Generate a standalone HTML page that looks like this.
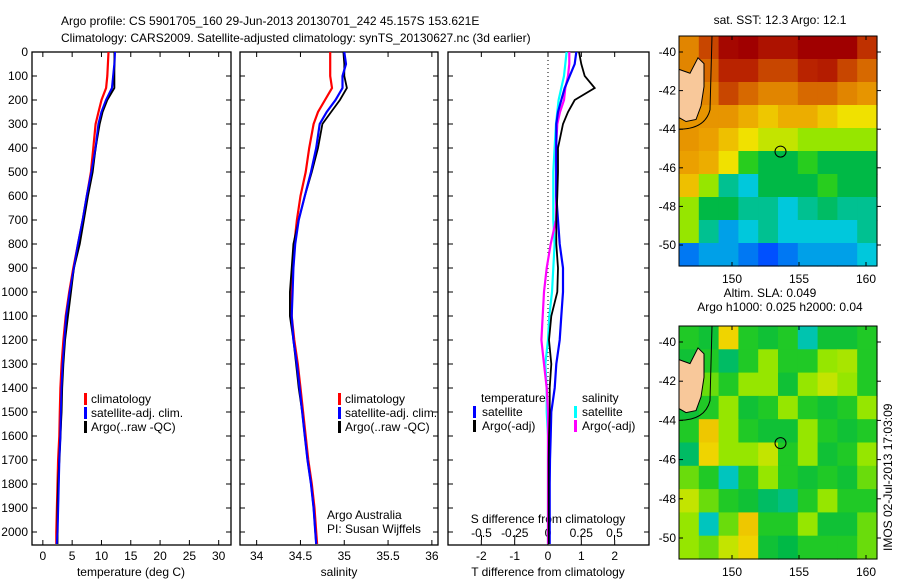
<!DOCTYPE html>
<html><head><meta charset="utf-8">
<style>
html,body{margin:0;padding:0;background:#fff;}
svg{display:block;font-family:"Liberation Sans",sans-serif;}
text{font-size:12px;fill:#000;}
</style></head>
<body>
<svg id="fig" width="900" height="580" viewBox="0 0 900 580" xmlns="http://www.w3.org/2000/svg">
<text x="61" y="25">Argo profile: CS 5901705_160 29-Jun-2013 20130701_242 45.157S 153.621E</text>
<text x="61" y="42">Climatology: CARS2009. Satellite-adjusted climatology: synTS_20130627.nc (3d earlier)</text>
<g id="g1"></g>
<g id="g2"></g>
<g id="g3"></g>
<g id="m1"></g>
<g id="m2"></g>
<text transform="translate(892,551) rotate(-90)">IMOS 02-Jul-2013 17:03:09</text>
</svg>
<script>
const depthTicks=[0,100,200,300,400,500,600,700,800,900,1000,1100,1200,1300,1400,1500,1600,1700,1800,1900,2000];
const depths=[0,50,100,150,200,250,300,400,500,600,700,800,900,1000,1100,1200,1300,1400,1500,1600,1700,1800,1900,2000,2050];
const tempClim=[11.2,11.1,11.0,10.8,10.0,9.5,9.0,8.6,8.2,7.5,6.8,6.0,5.2,4.5,3.9,3.5,3.2,3.0,2.9,2.8,2.6,2.5,2.4,2.3,2.3];
const tempSat=[12.3,12.2,12.0,11.8,10.8,10.0,9.5,9.0,8.3,7.5,6.8,6.0,5.3,4.6,4.0,3.7,3.4,3.2,3.1,3.0,2.8,2.7,2.6,2.5,2.4];
const tempArgo=[12.2,12.2,12.2,12.2,11.0,10.2,9.7,9.0,8.5,7.7,7.0,6.3,5.3,4.8,4.3,3.8,3.5,3.3,3.2,3.0,2.8,2.6,2.5,2.5,2.5];
const salClim=[34.84,34.84,34.84,34.86,34.78,34.70,34.65,34.60,34.56,34.50,34.46,34.43,34.41,34.40,34.40,34.43,34.47,34.50,34.53,34.56,34.59,34.63,34.66,34.68,34.69];
const salSat=[35.0,35.02,34.98,34.98,34.90,34.80,34.72,34.68,34.62,34.55,34.48,34.44,34.42,34.41,34.40,34.42,34.46,34.49,34.52,34.55,34.58,34.62,34.65,34.67,34.68];
const salArgo=[34.99,35.0,35.0,35.03,34.95,34.85,34.75,34.70,34.63,34.55,34.48,34.42,34.40,34.38,34.38,34.42,34.45,34.48,34.52,34.55,34.58,34.62,34.65,34.67,34.68];
const dTSat=[0.85,0.8,0.65,0.5,0.4,0.3,0.25,0.25,0.25,0.25,0.3,0.35,0.45,0.45,0.4,0.35,0.25,0.2,0.1,0.08,0.06,0.05,0.05,0.05,0.05];
const dTArgo=[0.93,1.0,1.1,1.4,0.8,0.6,0.45,0.3,0.3,0.28,0.25,0.25,0.3,0.28,0.1,0.03,0.1,0.05,0.05,0.03,0.02,0.02,0.02,0.02,0.02];
const dSSat=[0.14,0.13,0.12,0.1,0.08,0.07,0.06,0.05,0.04,0.04,0.04,0.05,0.04,0.03,0.01,0.0,-0.02,-0.01,-0.01,0.0,0.0,0.0,0.0,0.0,0.0];
const dSArgo=[0.16,0.16,0.15,0.13,0.12,0.09,0.07,0.06,0.06,0.06,0.06,0.02,-0.01,-0.03,-0.04,-0.05,-0.03,-0.01,0.0,0.0,0.0,0.0,0.0,0.0,0.0];
const tTicks=[0,5,10,15,20,25,30];
const sTicks=[34,34.5,35,35.5,36];
const dtTicks=[-2,-1,0,1,2];
const dsTicks=[-0.5,-0.25,0,0.25,0.5];
const dsTickLabels=["-0.5","-0.25","0","0.25","0.5"];
const lons=[150,155,160];
const lats=[-40,-42,-44,-46,-48,-50];
const sstGrid=[
[0.75,0.85,0.98,1,0.95,0.95,1,1,1,0.88],
[0.75,0.8,0.9,0.9,0.85,0.85,0.9,0.92,0.85,0.8],
[0.72,0.75,0.85,0.8,0.75,0.75,0.8,0.8,0.75,0.72],
[0.72,0.72,0.72,0.68,0.64,0.68,0.68,0.64,0.6,0.6],
[0.72,0.7,0.65,0.6,0.55,0.55,0.5,0.5,0.5,0.5],
[0.7,0.68,0.6,0.45,0.4,0.4,0.45,0.4,0.4,0.4],
[0.65,0.5,0.35,0.3,0.4,0.4,0.4,0.45,0.4,0.4],
[0.5,0.4,0.4,0.35,0.35,0.3,0.35,0.38,0.35,0.35],
[0.5,0.35,0.25,0.3,0.35,0.3,0.3,0.3,0.3,0.35],
[0.2,0.25,0.25,0.2,0.15,0.2,0.25,0.25,0.25,0.3]];
const slaGrid=[
[0.44,0.42,0.62,0.44,0.42,0.44,0.33,0.42,0.42,0.44],
[0.42,0.44,0.38,0.44,0.5,0.44,0.44,0.5,0.52,0.44],
[0.44,0.48,0.44,0.5,0.5,0.42,0.5,0.55,0.5,0.44],
[0.42,0.44,0.5,0.42,0.44,0.5,0.44,0.42,0.44,0.5],
[0.44,0.64,0.5,0.44,0.42,0.42,0.5,0.44,0.42,0.44],
[0.38,0.62,0.5,0.5,0.55,0.44,0.5,0.42,0.44,0.5],
[0.48,0.44,0.32,0.44,0.5,0.44,0.42,0.44,0.42,0.48],
[0.55,0.48,0.44,0.42,0.38,0.36,0.44,0.5,0.44,0.44],
[0.5,0.32,0.48,0.64,0.44,0.44,0.5,0.42,0.42,0.48],
[0.5,0.48,0.55,0.62,0.42,0.4,0.44,0.44,0.44,0.48]];
const argoLon=153.62, argoLat=-45.16;

const NS='http://www.w3.org/2000/svg';
function mk(parent,tag,attrs){const e=document.createElementNS(NS,tag);for(const k in attrs)e.setAttribute(k,attrs[k]);parent.appendChild(e);return e;}
const Y0=52, YB=545, yPx=d=>Y0+d*0.24;

function panel(g,x0,x1,xmin,xmax){
  const sx=v=>x0+(v-xmin)/(xmax-xmin)*(x1-x0);
  const r=mk(g,'rect',{x:x0,y:Y0,width:x1-x0,height:YB-Y0,fill:'none',stroke:'#000','stroke-width':1.3});
  
  
  depthTicks.forEach(d=>{
    const y=yPx(d);
    mk(g,'line',{x1:x0,x2:x0+5,y1:y,y2:y,stroke:'#000'});
    mk(g,'line',{x1:x1-5,x2:x1,y1:y,y2:y,stroke:'#000'});
  });
  return sx;
}
function xticks(g,sx,ticks,labels,ly){
  ticks.forEach((v,i)=>{
    const x=sx(v);
    mk(g,'line',{x1:x,x2:x,y1:Y0,y2:Y0+5,stroke:'#000'});
    mk(g,'line',{x1:x,x2:x,y1:YB-5,y2:YB,stroke:'#000'});
    const t=mk(g,'text',{x:x,y:ly,'text-anchor':'middle'});t.textContent=labels[i];
    
    
  });
}
function line(g,sx,vals,color,name,w){
  const pts=vals.map((v,i)=>sx(v).toFixed(1)+','+yPx(depths[i]).toFixed(1)).join(' ');
  const p=mk(g,'polyline',{points:pts,fill:'none',stroke:color,'stroke-width':w||2.2});
  
  
}
function txt(g,x,y,s,name,anchor){const t=mk(g,'text',{x:x,y:y,'text-anchor':anchor||'start'});t.textContent=s;
  
  return t;}
function legMark(g,x,y,c){const r=mk(g,'rect',{x:x,y:y-10,width:3,height:12,fill:c});
  
  }

const svg=document.getElementById('fig');
depthTicks.forEach(d=>{txt(svg,28,yPx(d)+4,String(d),'y-tick-label','end');});

const g1=document.getElementById('g1');
const sx1=panel(g1,32,231,-1.85,32.1);
xticks(g1,sx1,tTicks,tTicks.map(String),560);
txt(g1,131,576,'temperature (deg C)','x-axis-title','middle');
line(g1,sx1,tempClim,'#f00','temp-climatology-line');
line(g1,sx1,tempSat,'#00f','temp-satellite-line');
line(g1,sx1,tempArgo,'#000','temp-argo-line',1.8);
line(g1,sx1,tempSat,'#00f','temp-satellite-line-top',1.6);
[['climatology','#f00'],['satellite-adj. clim.','#00f'],['Argo(..raw -QC)','#000']].forEach((e,i)=>{legMark(g1,84,403+i*14,e[1]);txt(g1,91,403+i*14,e[0],'legend-entry');});

const g2=document.getElementById('g2');
const sx2=panel(g2,240,438,33.81,36.07);
xticks(g2,sx2,sTicks,sTicks.map(String),560);
txt(g2,339,576,'salinity','x-axis-title','middle');
line(g2,sx2,salClim,'#f00','sal-climatology-line');
line(g2,sx2,salArgo,'#000','sal-argo-line',1.8);
line(g2,sx2,salSat,'#00f','sal-satellite-line');
[['climatology','#f00'],['satellite-adj. clim.','#00f'],['Argo(..raw -QC)','#000']].forEach((e,i)=>{legMark(g2,338,403+i*14,e[1]);txt(g2,345,403+i*14,e[0],'legend-entry');});
txt(g2,327,519,'Argo Australia','credit-line-1');
txt(g2,327,533,'PI: Susan Wijffels','credit-line-2');

const g3=document.getElementById('g3');
const sxT=panel(g3,448,649,-3,3.03);
const sxS=v=>sxT(0)+v*133;
xticks(g3,sxT,dtTicks,dtTicks.map(String),560);
dsTicks.forEach((v,i)=>{const x=sxS(v);mk(g3,'line',{x1:x,x2:x,y1:YB-10,y2:YB-5,stroke:'#000'});txt(g3,x,537,dsTickLabels[i],'s-tick-label','middle');});
txt(g3,548,523,'S difference from climatology','s-axis-title','middle');
txt(g3,548,576,'T difference from climatology','x-axis-title','middle');
const zl=mk(g3,'line',{x1:sxT(0),x2:sxT(0),y1:Y0,y2:YB,stroke:'#000','stroke-dasharray':'1,3'});


line(g3,sxS,dSSat,'#0ff','sal-diff-satellite-line');
line(g3,sxS,dSArgo,'#f0f','sal-diff-argo-line');
line(g3,sxT,dTSat,'#00f','temp-diff-satellite-line');
line(g3,sxT,dTArgo,'#000','temp-diff-argo-line',1.8);
txt(g3,481,402,'temperature','legend-heading-temperature');
txt(g3,582,402,'salinity','legend-heading-salinity');
legMark(g3,473,416,'#00f');txt(g3,482,416,'satellite','legend-entry');
legMark(g3,473,430,'#000');txt(g3,482,430,'Argo(-adj)','legend-entry');
legMark(g3,574,416,'#0ff');txt(g3,582,416,'satellite','legend-entry');
legMark(g3,574,430,'#f0f');txt(g3,582,430,'Argo(-adj)','legend-entry');

const cmapStops=[[0,[0,0,140]],[0.15,[0,80,255]],[0.3,[0,200,220]],[0.4,[0,185,70]],[0.45,[40,205,30]],[0.5,[150,230,0]],[0.6,[240,225,0]],[0.7,[235,160,0]],[0.8,[215,105,0]],[0.9,[185,35,0]],[1,[160,0,0]]];
function cmap(v){for(let i=1;i<cmapStops.length;i++){if(v<=cmapStops[i][0]){const a=cmapStops[i-1],b=cmapStops[i];const f=(v-a[0])/(b[0]-a[0]);return 'rgb('+a[1].map((c,j)=>Math.round(c+(b[1][j]-c)*f)).join(',')+')';}}return 'rgb(160,0,0)';}
function drawMap(g,grid,top,bot,lat40,pxDeg,title1,title2){
  const L=679,R=877;
  const sxm=lon=>732+(lon-150)*13.4, sym=lat=>lat40+(-40-lat)*pxDeg;
  const rows=grid.length, cols=grid[0].length, cw=(R-L)/cols, ch=(bot-top)/rows;
  grid.forEach((row,i)=>row.forEach((v,j)=>{
    const c=mk(g,'rect',{x:(L+j*cw).toFixed(1),y:(top+i*ch).toFixed(1),width:(cw+0.6).toFixed(1),height:(ch+0.6).toFixed(1),fill:cmap(v)});
    
    
  }));
  const land=mk(g,'polygon',{points:[[679,sym(-40.9)],[690,sym(-41.1)],[698,sym(-40.3)],[704,sym(-40.6)],[704,sym(-41.8)],[701,sym(-42.8)],[696,sym(-43.5)],[686,sym(-43.6)],[679,sym(-43.4)]].map(p=>p[0]+','+p[1].toFixed(1)).join(' '),fill:'#f8c89a',stroke:'#000','stroke-width':1});
  
  
  const coast=mk(g,'path',{d:'M679,'+sym(-44).toFixed(1)+' Q705,'+sym(-44).toFixed(1)+' 710,'+sym(-43).toFixed(1)+' L712,'+top+'',fill:'none',stroke:'#000','stroke-width':1});
  
  
  const fr=mk(g,'rect',{x:L,y:top,width:R-L,height:bot-top,fill:'none',stroke:'#000','stroke-width':1});
  
  
  lons.forEach(lon=>{const x=sxm(lon);mk(g,'line',{x1:x,x2:x,y1:top,y2:top+4,stroke:'#000'});mk(g,'line',{x1:x,x2:x,y1:bot-4,y2:bot,stroke:'#000'});txt(g,x,bot+17,String(lon),'lon-tick-label','middle');});
  lats.forEach(lat=>{const y=sym(lat);mk(g,'line',{x1:L,x2:L+4,y1:y,y2:y,stroke:'#000'});mk(g,'line',{x1:R,x2:R+4,y1:y,y2:y,stroke:'#000'});txt(g,676,y+4,String(lat),'lat-tick-label','end');});
  const c=mk(g,'circle',{cx:sxm(argoLon),cy:sym(argoLat),r:5.5,fill:'none',stroke:'#000','stroke-width':1});
  
  
  if(title2){txt(g,770,top-29,title1,'map-title','middle');txt(g,780,top-15,title2,'map-subtitle','middle');}
  else txt(g,780,top-12,title1,'map-title','middle');
}
drawMap(document.getElementById('m1'),sstGrid,36,266,52,19.3,'sat. SST: 12.3 Argo: 12.1');
drawMap(document.getElementById('m2'),slaGrid,326,559,342,19.6,'Altim. SLA: 0.049','Argo h1000: 0.025 h2000: 0.04');
</script>
</body></html>
